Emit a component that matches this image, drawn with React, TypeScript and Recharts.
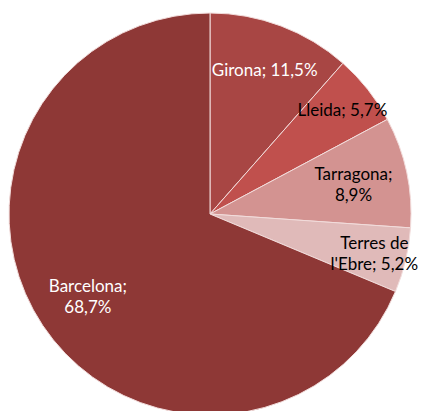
import { Cell, Pie, PieChart } from "recharts";

const regions = ["Girona", "Lleida", "Tarragona", "Terres de l'Ebre", "Barcelona"];
const shares = [11.5, 5.7, 8.9, 5.2, 68.7];
const colors = ["#A84644", "#C0504D", "#D39391", "#E0BAB9", "#8E3836"];
const textColors = ["#ffffff", "#000000", "#000000", "#000000", "#ffffff"];
// words kept on the first line of each label (0 = no wrap)
const labelWrap = [0, 0, 1, 2, 1];
// label distance from centre, as a share of the radius
const labelRadius = [0.77, 0.84, 0.73, 0.84, 0.73];

const data = regions.map((name, i) => ({ name, value: shares[i] }));

const RAD = Math.PI / 180;

function renderLabel(props: any) {
  const { cx, cy, midAngle, outerRadius, index } = props;
  const r = outerRadius * labelRadius[index];
  const x = cx + r * Math.cos(-midAngle * RAD);
  const y = cy + r * Math.sin(-midAngle * RAD);
  const text = `${regions[index]}; ${shares[index].toFixed(1).replace(".", ",")}%`;
  const words = text.split(" ");
  const n = labelWrap[index];
  const lines = n === 0 ? [text] : [words.slice(0, n).join(" "), words.slice(n).join(" ")];
  const lh = 21;
  const y0 = y - ((lines.length - 1) * lh) / 2;
  return (
    <text
      x={x}
      y={y0}
      textAnchor="middle"
      dominantBaseline="central"
      fill={textColors[index]}
      fontSize={17}
      fontFamily="Lato, 'Open Sans', sans-serif"
    >
      {lines.map((l, k) => (
        <tspan key={k} x={x} y={y0 + k * lh}>
          {l}
        </tspan>
      ))}
    </text>
  );
}

export default function App() {
  return (
    <div style={{ position: "absolute", left: 0, top: 0, width: 438, height: 411, background: "#fff" }}>
      <PieChart width={438} height={411} margin={{ top: 0, right: 0, bottom: 0, left: 0 }}>
        <Pie
          data={data}
          dataKey="value"
          nameKey="name"
          cx={210}
          cy={214}
          outerRadius={201}
          startAngle={90}
          endAngle={-270}
          stroke="#f2dcdb"
          strokeWidth={1}
          label={renderLabel}
          labelLine={false}
          isAnimationActive={false}
        >
          {data.map((d, i) => (
            <Cell key={d.name} fill={colors[i]} />
          ))}
        </Pie>
      </PieChart>
    </div>
  );
}
